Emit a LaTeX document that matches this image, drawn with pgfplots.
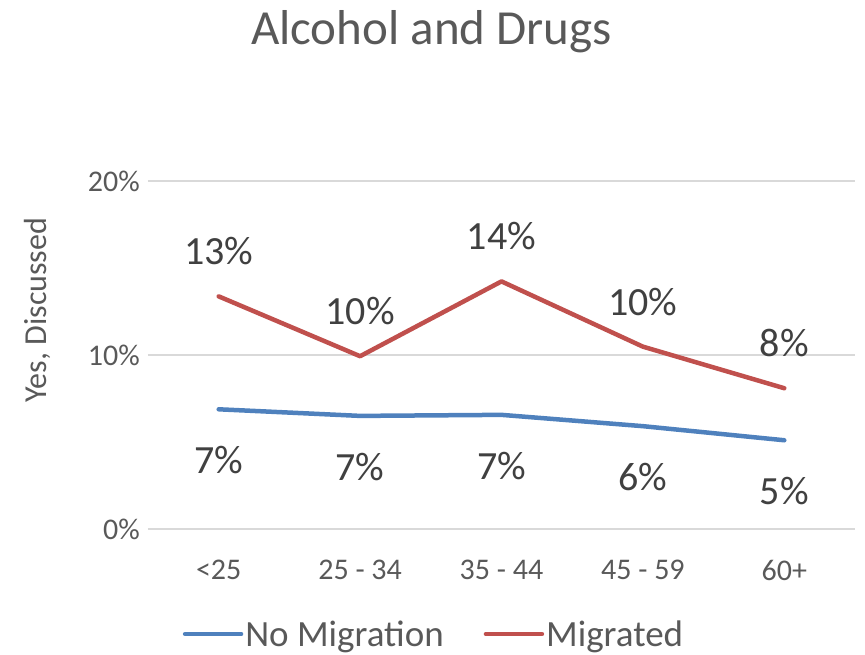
\documentclass[border=0pt]{standalone}
\usepackage{fontspec}
\setmainfont{Carlito}
\usepackage{pgfplots}
\pgfplotsset{compat=1.18}
\definecolor{noMig}{HTML}{4F81BD}
\definecolor{mig}{HTML}{C0504D}
\definecolor{gridc}{HTML}{D9D9D9}
\definecolor{txt}{HTML}{595959}
\definecolor{lab}{HTML}{404040}
\begin{document}
\begin{tikzpicture}
\useasboundingbox (0,0) rectangle (865pt,654pt);
\begin{axis}[
    at={(148pt,125pt)}, anchor=south west,
    scale only axis, width=707pt, height=348pt,
    xmin=-0.5, xmax=4.5, ymin=0, ymax=20,
    xtick={0,...,4},
    xticklabels={<25, 25 - 34, 35 - 44, 45 - 59, 60+},
    ytick={0,10,20},
    yticklabel={\pgfmathprintnumber{\tick}\%},
    /pgf/number format/assume math mode=true,
    axis line style={draw=none},
    major tick length=0pt,
    ymajorgrids,
    grid style={gridc, line width=1.5pt},
    tick label style={txt, font=\fontsize{30}{36}\selectfont, inner sep=0pt},
    xticklabel style={anchor=north, yshift=-31pt},
    yticklabel style={anchor=east, xshift=-8pt},
    ylabel={Yes, Discussed},
    ylabel style={at={(axis description cs:-0.157,0.629)}, anchor=center,
        txt, font=\fontsize{32}{38}\selectfont},
    point meta=explicit symbolic,
    nodes near coords,
    every node near coord/.append style={lab, font=\fontsize{40}{48}\selectfont, inner sep=0pt},
    legend columns=2,
    legend style={at={(0.4045,-0.3017)}, anchor=center, draw=none, fill=none,
        font=\fontsize{37}{44}\selectfont, text=txt, inner sep=0pt,
        /tikz/every even column/.append style={column sep=38pt}},
    legend image code/.code={\draw[#1] (0pt,0pt) -- (56pt,0pt);},
  ]
  % no migration
  \addplot[noMig, line width=4.5pt, line cap=round, line join=round,
    every node near coord/.append style={anchor=north, yshift=-35pt}]
    coordinates {
      (0,6.88) [7\%]
      (1,6.50) [7\%]
      (2,6.56) [7\%]
      (3,5.91) [6\%]
      (4,5.10) [5\%]
    };
  \addlegendentry{No Migration}
  % migrated
  \addplot[mig, line width=4.5pt, line cap=round, line join=round,
    every node near coord/.append style={anchor=south, yshift=29pt}]
    coordinates {
      (0,13.37) [13\%]
      (1,9.93) [10\%]
      (2,14.23) [14\%]
      (3,10.48) [10\%]
      (4,8.09) [8\%]
    };
  \addlegendentry{Migrated}
\end{axis}
\node[txt, font=\fontsize{49}{58}\selectfont, anchor=base] at (431.5pt,609pt) {Alcohol and Drugs};
\end{tikzpicture}
\end{document}
